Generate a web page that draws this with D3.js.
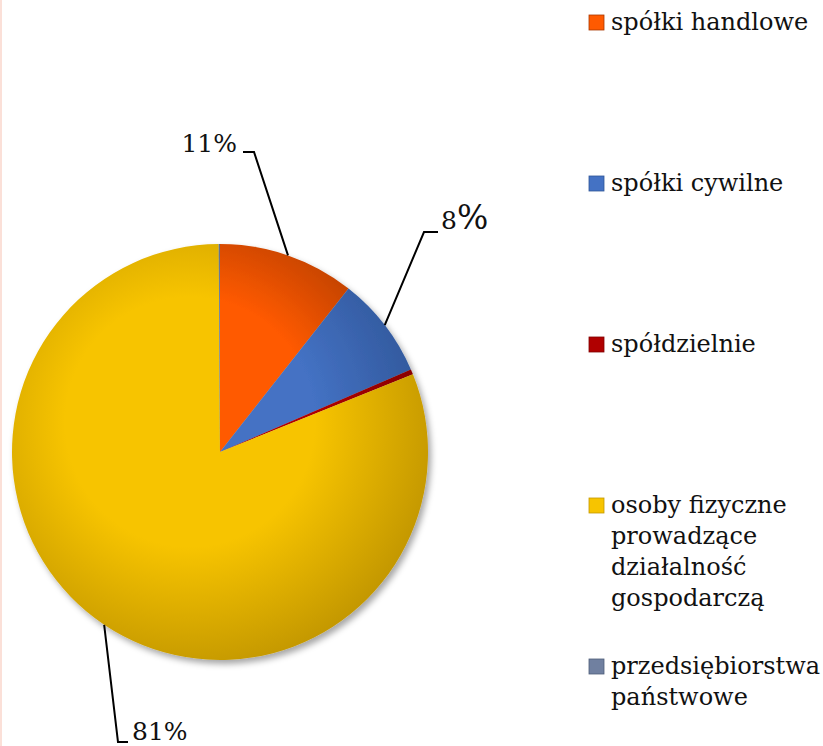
<!DOCTYPE html>
<html lang="pl">
<head>
<meta charset="UTF-8">
<title>Pie</title>
<style>
  * { margin: 0; padding: 0; }
  body { background: white; }
</style>
</head>
<body>
<div id="chart-area"></div>
<script src="https://cdn.jsdelivr.net/npm/d3@7"></script>
<script>
const categories = ['spółki handlowe', 'spółki cywilne', 'spółdzielnie',
  'osoby fizyczne\nprowadzące\ndziałalność\ngospodarczą', 'przedsiębiorstwa\npaństwowe']
const values = [10.6, 7.9, 0.4, 81.0, 0.1]
const shownLabels = ['11%', '8%', null, '81%', null]

const W = 823, H = 746
const cx = 220, cy = 452, R = 208
const serif = '"DejaVu Serif", serif'

const svg = d3.select('#chart-area').append('svg')
  .attr('width', W).attr('height', H)

// thin pink frame line on the left
svg.append('rect').attr('x', 0).attr('y', 0).attr('width', 2).attr('height', H).attr('fill', '#fbe0d8')

const colors = d3.scaleOrdinal().domain(categories)
  .range(['#ff5a00', '#4472c4', '#b00000', '#f7c400', '#7080a0'])
const darks = d3.scaleOrdinal().domain(categories)
  .range(['#a83800', '#2f5597', '#800000', '#c49800', '#4e5c78'])

const defs = svg.append('defs')
const shadow = defs.append('filter').attr('id', 'sh').attr('x', '-10%').attr('y', '-10%').attr('width', '130%').attr('height', '130%')
shadow.append('feDropShadow').attr('dx', 3).attr('dy', 4).attr('stdDeviation', 3).attr('flood-color', '#000').attr('flood-opacity', 0.35)

// gradients live in the pie group's coordinate space (origin = pie centre)
categories.forEach((c, i) => {
  const g = defs.append('radialGradient').attr('id', 'g' + i)
    .attr('gradientUnits', 'userSpaceOnUse')
    .attr('cx', -30).attr('cy', -30).attr('r', R * 1.2)
  g.append('stop').attr('offset', '0%').attr('stop-color', colors(c))
  g.append('stop').attr('offset', '50%').attr('stop-color', colors(c))
  g.append('stop').attr('offset', '100%').attr('stop-color', darks(c))
})

const pie = d3.pie().sort(null).value(d => d)
const arcs = pie(values)
const arc = d3.arc().innerRadius(0).outerRadius(R)

const gp = svg.append('g').attr('transform', `translate(${cx},${cy})`)
gp.append('g').attr('filter', 'url(#sh)')
  .selectAll('path').data(arcs).enter().append('path')
  .attr('d', arc)
  .attr('fill', (d, i) => `url(#g${i})`)

// leader lines and labels
const lab = svg.append('g')
arcs.forEach((a, i) => {
  if (!shownLabels[i]) return
  const mid = (a.startAngle + a.endAngle) / 2
  const px = cx + R * Math.sin(mid), py = cy - R * Math.cos(mid)
  let pts, tx, ty, anchor
  if (i === 0) {
    pts = [[px, py], [254, 152], [243, 152]]; tx = 237; ty = 152; anchor = 'end'
  } else if (i === 1) {
    pts = [[px, py], [424, 232], [438, 232]]; tx = 441; ty = 229; anchor = 'start'
  } else {
    pts = [[px, py], [118, 742], [128, 742]]; tx = 132; ty = 740; anchor = 'start'
  }
  lab.append('path').attr('d', d3.line()(pts)).attr('fill', 'none').attr('stroke', '#000').attr('stroke-width', 2)
  const t = lab.append('text').attr('x', tx).attr('y', ty).attr('text-anchor', anchor)
    .attr('font-family', serif).attr('font-size', 25).attr('fill', '#111')
  if (i === 1) {
    t.append('tspan').text(shownLabels[i].replace('%', ''))
    t.append('tspan').attr('font-size', 33).text('%')
  } else {
    t.text(shownLabels[i])
  }
})

// legend
const leg = svg.append('g')
const ly = d3.scaleLinear().domain([0, categories.length - 1]).range([30, 674])
categories.forEach((c, i) => {
  const y = ly(i)
  leg.append('rect').attr('x', 589).attr('y', y - 15).attr('width', 15).attr('height', 15)
    .attr('fill', colors(c)).attr('stroke', darks(c)).attr('stroke-width', 0.8)
  const t = leg.append('text').attr('x', 611).attr('y', y)
    .attr('font-family', serif).attr('font-size', 24).attr('fill', '#111')
  c.split('\n').forEach((line, j) => {
    t.append('tspan').attr('x', 611).attr('dy', j === 0 ? 0 : 31).text(line)
  })
})
</script>
</body>
</html>
